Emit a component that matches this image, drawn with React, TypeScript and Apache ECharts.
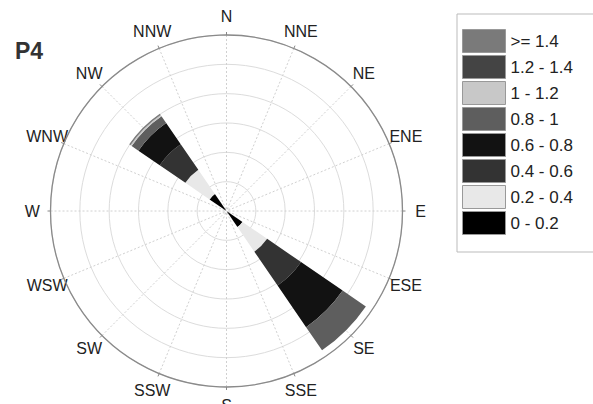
import React, { useEffect, useRef } from "react";
import * as echarts from "echarts";

const directions = ["N", "NNE", "NE", "ENE", "E", "ESE", "SE", "SSE", "S", "SSW", "SW", "WSW", "W", "WNW", "NW", "NNW"];
const speedBins = ["0 - 0.2", "0.2 - 0.4", "0.4 - 0.6", "0.6 - 0.8", "0.8 - 1", "1 - 1.2", "1.2 - 1.4", ">= 1.4"];
const binColors = ["#000000", "#e8e8e8", "#333333", "#121212", "#5e5e5e", "#c8c8c8", "#444444", "#7a7a7a"];

// frequency (%) per direction for each speed bin (N ... NNW)
const bin0 = [0, 0, 0, 0, 0, 0, 3.3, 0, 0, 0, 0, 0, 0, 0, 3.5, 0];
const bin1 = [0, 0, 0, 0, 0, 0, 5.1, 0, 0, 0, 0, 0, 0, 0, 5.0, 0];
const bin2 = [0, 0, 0, 0, 0, 0, 7.0, 0, 0, 0, 0, 0, 0, 0, 5.3, 0];
const bin3 = [0, 0, 0, 0, 0, 0, 8.6, 0, 0, 0, 0, 0, 0, 0, 4.4, 0];
const bin4 = [0, 0, 0, 0, 0, 0, 4.8, 0, 0, 0, 0, 0, 0, 0, 1.4, 0];
const bin5 = [0, 0, 0, 0, 0, 0, 0, 0, 0, 0, 0, 0, 0, 0, 0.25, 0];
const bin6 = [0, 0, 0, 0, 0, 0, 0, 0, 0, 0, 0, 0, 0, 0, 0, 0];
const bin7 = [0, 0, 0, 0, 0, 0, 0, 0, 0, 0, 0, 0, 0, 0, 0.25, 0];
const binValues = [bin0, bin1, bin2, bin3, bin4, bin5, bin6, bin7];

const radiusMax = 30;
const radiusStep = 5;
const labelRadius = 33.1; // direction labels sit just outside the outer ring (radius units)
const chartTitle = "P4";

export default function App() {
  const ref = useRef<HTMLDivElement>(null);
  useEffect(() => {
    if (!ref.current) return;
    const chart = echarts.init(ref.current, null, { renderer: "svg" });
    const font = "'Liberation Sans', Arial, sans-serif";
    const sector = 360 / directions.length;
    const center = [226.5, 211];
    const radius = 176;
    chart.setOption({
      animation: false,
      backgroundColor: "#ffffff",
      title: {
        text: chartTitle,
        left: 15,
        top: 39,
        padding: 0,
        textStyle: { fontFamily: font, fontSize: 23, fontWeight: "bold", color: "#333" },
      },
      legend: {
        orient: "vertical",
        left: 457,
        top: 14,
        padding: [15, 60, 17, 5],
        itemWidth: 43,
        itemHeight: 23,
        itemGap: 2,
        borderColor: "#bbb",
        borderWidth: 1,
        icon: "rect",
        itemStyle: { borderColor: "#999", borderWidth: 1 },
        textStyle: { fontFamily: font, fontSize: 17, color: "#222" },
        data: [...speedBins].reverse(),
      },
      polar: [
        { center, radius },
        { center, radius },
      ],
      angleAxis: [
        {
          polarIndex: 0,
          type: "category",
          data: directions,
          boundaryGap: true,
          startAngle: 90 + sector / 2,
          clockwise: true,
          axisLine: { show: false },
          axisTick: { show: false },
          axisLabel: { show: false },
          splitLine: { show: false },
        },
        {
          polarIndex: 1,
          type: "value",
          min: 0,
          max: 360,
          interval: sector,
          startAngle: 90,
          clockwise: true,
          axisLine: { lineStyle: { color: "#8a8a8a", width: 1.3 } },
          axisTick: { show: true, length: 3, lineStyle: { color: "#888" } },
          axisLabel: { show: false },
          splitLine: { show: true, lineStyle: { color: "#d0d0d0", type: [2, 2], width: 1 } },
        },
      ],
      radiusAxis: [
        {
          polarIndex: 0,
          min: 0,
          max: radiusMax,
          interval: radiusStep,
          axisLine: { show: false },
          axisTick: { show: false },
          axisLabel: { show: false },
          splitLine: { show: false },
        },
        {
          polarIndex: 1,
          min: 0,
          max: radiusMax,
          interval: radiusStep,
          axisLine: { show: false },
          axisTick: { show: false },
          axisLabel: { show: false },
          splitLine: { show: true, lineStyle: { color: "#dcdcdc", width: 1 } },
        },
      ],
      series: speedBins.map((name, i) => ({
        name,
        type: "bar",
        coordinateSystem: "polar",
        polarIndex: 0,
        stack: "total",
        barCategoryGap: "6%",
        data: binValues[i],
        itemStyle: { color: binColors[i] },
      })),
    });

    // Direction labels centred on their spokes, positioned through the polar's own scales
    const labels = directions.map((d, i) => {
      let p: number[] | null = null;
      try {
        p = chart.convertToPixel({ polarIndex: 1 } as any, [labelRadius, i * sector]) as any;
      } catch (e) {
        p = null;
      }
      if (!p || !isFinite(p[0]) || !isFinite(p[1])) {
        const a = (i * sector * Math.PI) / 180;
        const r = (labelRadius / radiusMax) * radius;
        p = [center[0] + r * Math.sin(a), center[1] - r * Math.cos(a)];
      }
      return {
        type: "text",
        x: p[0],
        y: p[1],
        silent: true,
        style: {
          text: d,
          align: "center",
          verticalAlign: "middle",
          fontFamily: font,
          fontSize: 16,
          fill: "#222",
        },
      };
    });
    chart.setOption({ graphic: labels });
    return () => chart.dispose();
  }, []);
  return <div ref={ref} style={{ position: "absolute", left: 0, top: 0, width: 593, height: 404 }} />;
}
